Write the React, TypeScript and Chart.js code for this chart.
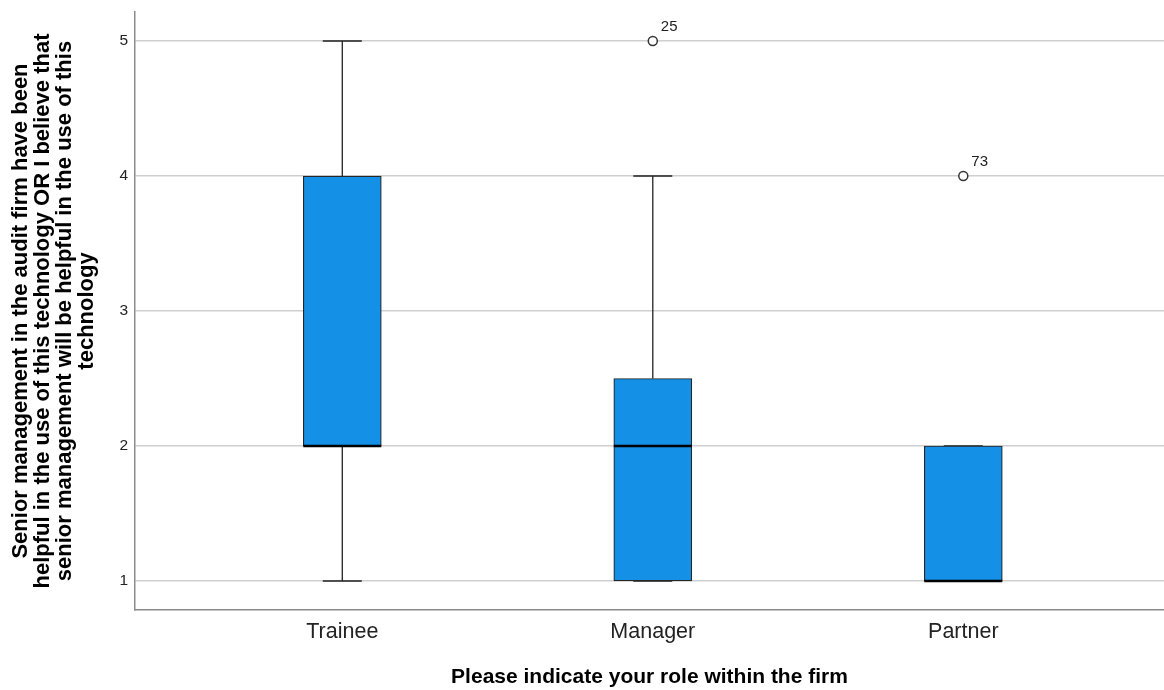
import React, { useEffect, useRef } from "react";
import { Chart, registerables } from "chart.js";

Chart.register(...registerables);

const categories = ["Trainee", "Manager", "Partner"];
const whiskerLow = [1, 1, 1];
const q1 = [2, 1, 1];
const medians = [2, 2, 1];
const q3 = [4, 2.5, 2];
const whiskerHigh = [5, 4, 2];
const outlierCategory = [1, 2];
const outlierValues = [5, 4];
const outlierLabels = ["25", "73"];
const yTicks = [1, 2, 3, 4, 5];

const yTitle = [
  "Senior management in the audit firm have been",
  "helpful in the use of this technology OR I believe that",
  "senior management will be helpful in the use of this",
  "technology",
];
const xTitle = "Please indicate your role within the firm";

const FONT = "'Liberation Sans', Arial, Helvetica, sans-serif";

const boxPlugin = {
  id: "boxExtras",
  beforeDatasetsDraw(chart: any) {
    const { ctx } = chart;
    const x = chart.scales.x;
    const y = chart.scales.y;
    const meta = chart.getDatasetMeta(0);
    ctx.save();
    ctx.strokeStyle = "#222";
    ctx.lineWidth = 1.3;
    categories.forEach((_, i) => {
      const bar = meta.data[i];
      const cx = x.getPixelForValue(i + 1);
      const half = bar.width / 4;
      const yl = y.getPixelForValue(whiskerLow[i]);
      const yq1 = y.getPixelForValue(q1[i]);
      const yq3 = y.getPixelForValue(q3[i]);
      const yh = y.getPixelForValue(whiskerHigh[i]);
      ctx.beginPath();
      ctx.moveTo(cx, yq3);
      ctx.lineTo(cx, yh);
      ctx.moveTo(cx - half, yh);
      ctx.lineTo(cx + half, yh);
      ctx.moveTo(cx, yq1);
      ctx.lineTo(cx, yl);
      ctx.moveTo(cx - half, yl);
      ctx.lineTo(cx + half, yl);
      ctx.stroke();
    });
    ctx.restore();
  },
  afterDatasetsDraw(chart: any) {
    const { ctx } = chart;
    const x = chart.scales.x;
    const y = chart.scales.y;
    const meta = chart.getDatasetMeta(0);
    ctx.save();
    ctx.strokeStyle = "#000";
    ctx.lineWidth = 2.5;
    categories.forEach((_, i) => {
      const bar = meta.data[i];
      const cx = x.getPixelForValue(i + 1);
      const hw = bar.width / 2;
      const ym = y.getPixelForValue(medians[i]);
      ctx.beginPath();
      ctx.moveTo(cx - hw, ym);
      ctx.lineTo(cx + hw, ym);
      ctx.stroke();
    });
    ctx.fillStyle = "#222";
    ctx.font = "15px " + FONT;
    ctx.textAlign = "left";
    ctx.textBaseline = "alphabetic";
    outlierCategory.forEach((c, i) => {
      const px = x.getPixelForValue(c + 1);
      const py = y.getPixelForValue(outlierValues[i]);
      ctx.fillText(outlierLabels[i], px + 8, py - 10);
    });
    ctx.restore();
  },
};

const zeroPad = (s: any) => {
  s.paddingTop = 0;
  s.paddingBottom = 0;
  s.paddingLeft = 0;
  s.paddingRight = 0;
};

export default function App() {
  const ref = useRef<HTMLCanvasElement | null>(null);
  useEffect(() => {
    if (!ref.current) return;
    const chart = new Chart(ref.current, {
      type: "bar",
      data: {
        datasets: [
          {
            type: "bar",
            data: categories.map((_, i) => ({ x: i + 1, y: [q1[i], q3[i]] })) as any,
            backgroundColor: "#1490e6",
            borderColor: "#262626",
            borderWidth: 1.2,
            borderSkipped: false,
            barThickness: 78,
          } as any,
          {
            type: "scatter",
            data: outlierCategory.map((c, i) => ({ x: c + 1, y: outlierValues[i] })),
            pointRadius: 4.5,
            pointBackgroundColor: "#fff",
            pointBorderColor: "#333",
            pointBorderWidth: 1.5,
          } as any,
        ],
      },
      options: {
        responsive: false,
        animation: false,
        layout: { autoPadding: false, padding: { top: 12, right: 0, left: 0, bottom: 0 } },
        plugins: { legend: { display: false }, tooltip: { enabled: false } },
        scales: {
          x: {
            type: "linear",
            min: 0.3324,
            max: 3.6464,
            offset: false,
            grid: { display: false, drawTicks: false, offset: false },
            border: { display: true, color: "#8c8c8c", width: 1.5 },
            afterBuildTicks: (s: any) => {
              s.ticks = categories.map((_, i) => ({ value: i + 1 }));
            },
            afterFit: (s: any) => {
              s.height = 80;
              zeroPad(s);
            },
            ticks: {
              padding: 9,
              color: "#222",
              font: { family: FONT, size: 21.5 },
              callback: (v: any) => categories[Math.round(Number(v)) - 1] ?? "",
            },
            title: {
              display: true,
              text: xTitle,
              color: "#000",
              font: { family: FONT, size: 21, weight: "bold", lineHeight: 22 / 21 },
              padding: { top: 0, bottom: 2 },
            },
          },
          y: {
            type: "linear",
            min: 0.785,
            max: 5.215,
            grid: { color: "#cfcfcf", lineWidth: 1.5, drawTicks: false },
            border: { display: true, color: "#8c8c8c", width: 1.5 },
            afterBuildTicks: (s: any) => {
              s.ticks = yTicks.map((v) => ({ value: v }));
            },
            afterFit: (s: any) => {
              s.width = 135;
              zeroPad(s);
            },
            ticks: {
              padding: 7,
              color: "#222",
              font: { family: FONT, size: 15.5 },
            },
            title: {
              display: true,
              text: yTitle,
              color: "#000",
              font: { family: FONT, size: 22, weight: "bold", lineHeight: 1 },
              padding: { top: 10, bottom: 0 },
            },
          },
        },
      },
      plugins: [boxPlugin],
    } as any);
    return () => chart.destroy();
  }, []);
  return (
    <div style={{ position: "absolute", left: 0, top: 0, width: 1164, height: 690, background: "#fff" }}>
      <canvas ref={ref} width={1164} height={690} />
    </div>
  );
}
